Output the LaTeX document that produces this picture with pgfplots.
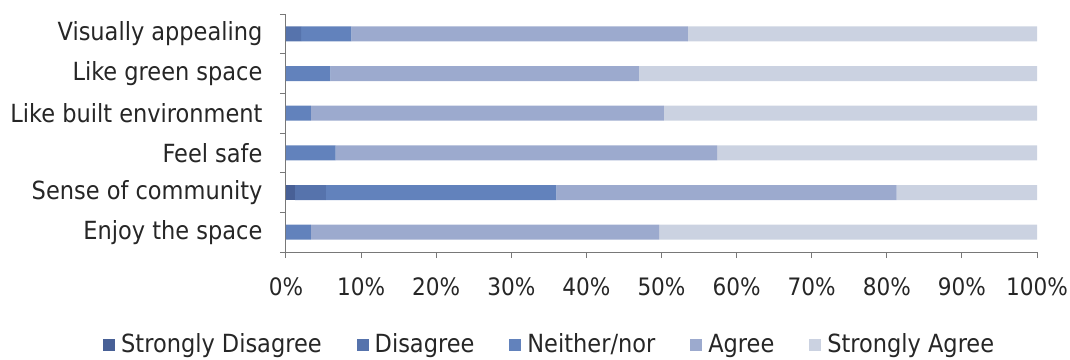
\documentclass[border=0pt]{standalone}
\usepackage{fontspec}
\setmainfont{DejaVu Sans Condensed}
\usepackage{pgfplots}
\pgfplotsset{compat=1.18}
\usepackage{pgfplotstable}

\definecolor{sdis}{RGB}{72,96,150}
\definecolor{dis}{RGB}{86,115,172}
\definecolor{neut}{RGB}{98,130,188}
\definecolor{agr}{RGB}{156,170,206}
\definecolor{sagr}{RGB}{203,210,225}
\definecolor{axgray}{RGB}{120,120,120}

% survey responses, percent of respondents (row 0 = bottom bar)
\pgfplotstableread{
y  SD   D    N     A     SA
0  0    0    3.3   46.4  50.3
1  1.2  4.1  30.7  45.3  18.7
2  0    0    6.6   50.8  42.6
3  0    0    3.3   47.0  49.7
4  0    0    5.9   41.1  53.0
5  0    2.0  6.7   44.8  46.5
}\survey

\begin{document}
\fontsize{25}{30}\selectfont
\begin{tikzpicture}
\begin{axis}[
  scale only axis,
  width=751pt, height=238pt,
  xbar stacked,
  bar width=15pt,
  xmin=0, xmax=100,
  ymin=-0.5, ymax=5.5,
  xtick={0,10,...,100},
  xticklabel={\pgfmathprintnumber{\tick}\%},
  /pgf/number format/assume math mode=true,
  ytick={0,...,5},
  yticklabels={Enjoy the space, Sense of community, Feel safe, Like built environment, Like green space, Visually appealing},
  minor ytick={-0.5,0.5,...,5.5},
  axis x line*=bottom,
  axis y line*=left,
  axis line style={axgray, line width=1pt},
  major y tick style={draw=none},
  minor y tick style={axgray, line width=1pt},
  x tick style={axgray, line width=1pt},
  tick align=outside,
  major tick length=6pt,
  minor tick length=6pt,
  yticklabel style={xshift=-9pt, text=black!85, font=\fontsize{25}{30}\selectfont},
  xticklabel style={yshift=-11pt, text=black!85, font=\fontsize{24}{29}\selectfont},
  legend style={
    at={(-0.2437,-0.39)}, anchor=west,
    draw=none, fill=none,
    legend columns=-1,
    font=\fontsize{25}{30}\selectfont,
    text=black!85,
    inner sep=0pt,
    /tikz/every even column/.append style={column sep=35pt},
    nodes={inner xsep=0pt, inner ysep=2pt},
  },
  legend image code/.code={
    \fill[#1] (0pt,-6pt) rectangle (12pt,6pt);
    \path (18pt,0pt);
  },
  legend cell align=left,
]
\addplot[fill=sdis, draw=none] table[x=SD, y=y] {\survey};
\addplot[fill=dis,  draw=none] table[x=D,  y=y] {\survey};
\addplot[fill=neut, draw=none] table[x=N,  y=y] {\survey};
\addplot[fill=agr,  draw=none] table[x=A,  y=y] {\survey};
\addplot[fill=sagr, draw=none] table[x=SA, y=y] {\survey};
\legend{Strongly Disagree, Disagree, Neither/nor, Agree, Strongly Agree}
\end{axis}
\pgfresetboundingbox
\useasboundingbox (-286pt,-107pt) rectangle (784pt,252pt);
\end{tikzpicture}
\end{document}
